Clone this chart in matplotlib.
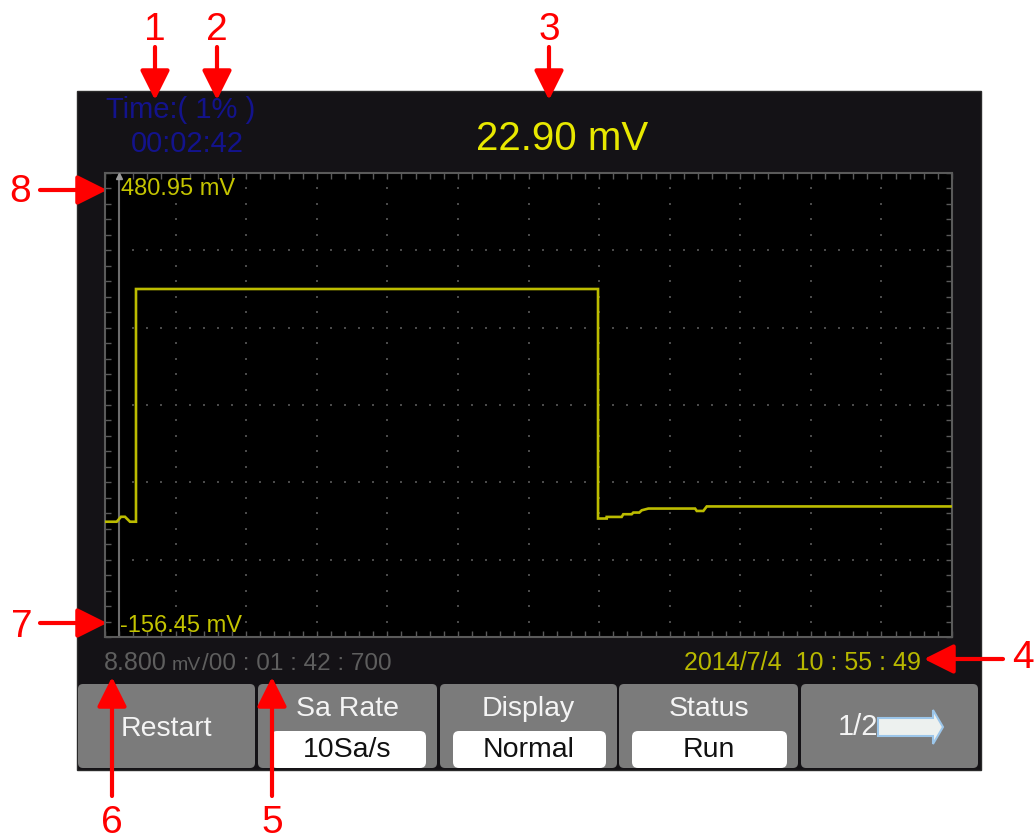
import numpy as np
import matplotlib
matplotlib.use("Agg")
import matplotlib.pyplot as plt
from matplotlib.patches import Rectangle, FancyBboxPatch, Polygon

plt.rcParams['font.family'] = ['Liberation Sans', 'DejaVu Sans']

# ---------------- data ----------------
# time in screen divisions (12 horizontal divisions), voltage in mV
time_div = [0.0, 0.166, 0.227, 0.283, 0.354, 0.439, 0.439, 6.985, 6.985,
            7.108, 7.108, 7.32, 7.343, 7.462, 7.485, 7.57, 7.604, 7.698,
            8.36, 8.384, 8.477, 8.525, 12.0]
voltage_mv = [1.9, 1.9, 8.7, 8.7, 1.9, 1.9, 321.6, 321.6, 6.3,
              6.3, 8.5, 8.5, 12.2, 12.2, 14.5, 14.5, 17.6, 20.0,
              20.0, 16.7, 16.7, 22.9, 22.9]
y_top_mv = 480.95
y_bottom_mv = -156.45
n_xdiv, n_ydiv = 12, 6
cursor_div = 0.2

elapsed_label = "Time:( 1% )"
elapsed_time = "00:02:42"
current_value = "22.90 mV"
scale_value = "8.800"
scale_unit = "mV"
scale_time = "/00 : 01 : 42 : 700"
timestamp = "2014/7/4  10 : 55 : 49"
top_label = "480.95 mV"
bottom_label = "-156.45 mV"
button_titles = ["Restart", "Sa Rate", "Display", "Status", "1/2"]
button_values = [None, "10Sa/s", "Normal", "Run", None]

# ---------------- figure ----------------
W, H = 1035, 839
fig = plt.figure(figsize=(W / 100, H / 100), dpi=100)
fig.patch.set_facecolor('white')

bg = fig.add_axes([0, 0, 1, 1])
bg.set_xlim(0, W)
bg.set_ylim(H, 0)
bg.axis('off')

# screen panel
bg.add_patch(Rectangle((77, 91), 904, 679, facecolor='#141216', edgecolor='#2a2a2a', lw=1))

blue = '#13138c'
bg.text(106, 118, elapsed_label, color=blue, fontsize=21, va='baseline', ha='left')
bg.text(131, 151.5, elapsed_time, color=blue, fontsize=21, va='baseline', ha='left')
bg.text(562, 150, current_value, color='#e8e800', fontsize=29, va='baseline', ha='center')

gray_txt = '#5e5e5e'
bg.text(104, 670, scale_value, color=gray_txt, fontsize=18, va='baseline', ha='left')
bg.text(172, 670, scale_unit, color=gray_txt, fontsize=14, va='baseline', ha='left')
bg.text(202, 670, scale_time, color=gray_txt, fontsize=17.5, va='baseline', ha='left')
bg.text(921, 670, timestamp, color='#b8b800', fontsize=18, va='baseline', ha='right')

# buttons
btn_x = [(78, 255), (258, 437), (440, 617), (619, 798), (801, 978)]
btn_top, btn_bot = 684, 768
for i, (x0, x1) in enumerate(btn_x):
    bg.add_patch(FancyBboxPatch((x0 + 3, btn_top + 3), x1 - x0 - 6, btn_bot - btn_top - 6,
                                boxstyle="round,pad=3,rounding_size=5",
                                facecolor='#7b7b7b', edgecolor='none'))
    cx = (x0 + x1) / 2
    if button_values[i] is None and i < 4:
        bg.text(cx, 736, button_titles[i], color='#f4f4f4', fontsize=20.5,
                va='baseline', ha='center')
    elif button_values[i] is not None:
        bg.text(cx, 716, button_titles[i], color='#f4f4f4', fontsize=20.5,
                va='baseline', ha='center')
        bx0, bx1 = x0 + 13, x1 - 11
        bg.add_patch(FancyBboxPatch((bx0 + 4, 735), bx1 - bx0 - 8, 29,
                                    boxstyle="round,pad=4,rounding_size=6",
                                    facecolor='white', edgecolor='none'))
        bg.text(cx, 757, button_values[i], color='#111111', fontsize=20.5,
                va='baseline', ha='center')

# page button with arrow
bg.text(858, 735, button_titles[4], color='#f4f4f4', fontsize=21, va='baseline', ha='center')
arrow_poly = [(878, 718), (933, 718), (933, 710), (943, 727), (933, 744), (933, 736), (878, 736)]
bg.add_patch(Polygon(arrow_poly, closed=True, facecolor='#edf1ef', edgecolor='#9cc6ea', lw=1.5))

# red annotations
red = '#ff0000'
ann = [
    ("1", (155, 40), (155, 47), (155, 100)),
    ("2", (217, 40), (217, 47), (217, 100)),
    ("3", (549, 40), (549, 47), (549, 100)),
    ("4", (1023, 668), (1003, 659), (924, 659)),
    ("5", (272, 833), (272, 796), (272, 677)),
    ("6", (112, 833), (112, 796), (112, 677)),
    ("7", (22, 637), (40, 623), (107, 623)),
    ("8", (20, 202), (40, 190), (107, 190)),
]
for lbl, tpos, a0, a1 in ann:
    bg.text(tpos[0], tpos[1], lbl, color=red, fontsize=28, va='baseline', ha='center')
    bg.annotate("", xy=a1, xytext=a0,
                arrowprops=dict(arrowstyle='-|>,head_length=0.9,head_width=0.45',
                                color=red, lw=3, shrinkA=0, shrinkB=0,
                                mutation_scale=20))

# ---------------- plot area ----------------
px0, px1, py0, py1 = 105, 952, 173, 637
ax = fig.add_axes([px0 / W, 1 - py1 / H, (px1 - px0) / W, (py1 - py0) / H])
ax.set_facecolor('black')
ax.set_xlim(0, n_xdiv)
ax.set_ylim(y_bottom_mv, y_top_mv)
for s in ax.spines.values():
    s.set_color('#5a5a5a')
    s.set_linewidth(1.5)

ydiv = (y_top_mv - y_bottom_mv) / n_ydiv
x_minor = np.arange(0, n_xdiv + 1e-9, 0.2)
y_minor = y_bottom_mv + np.arange(0, n_ydiv * 5 + 1) * ydiv / 5
ax.set_xticks(x_minor)
ax.set_yticks(y_minor)
ax.tick_params(direction='in', top=True, right=True, length=4, width=1,
               color='#5a5a5a', labelbottom=False, labelleft=False)

# dotted grid
gx, gy = [], []
for k in range(1, n_xdiv):
    gx += [k] * len(y_minor)
    gy += list(y_minor)
for j in range(1, n_ydiv):
    yv = y_bottom_mv + j * ydiv
    gx += list(x_minor)
    gy += [yv] * len(x_minor)
ax.scatter(gx, gy, s=2.5, color='#4a4a4a', marker='s', linewidths=0, zorder=1)

# cursor line
ax.axvline(cursor_div, color='#6c6c6c', lw=1.5, zorder=2)
ax.plot([cursor_div], [y_top_mv - 4], marker='^', ms=5, color='#9a9a9a', zorder=3, clip_on=False)

# trace
ax.plot(time_div, voltage_mv, color='#bcbc00', lw=1.9, zorder=4, solid_joinstyle='miter')

# range labels
ax.text((121 - px0) / (px1 - px0), 1 - (195 - py0) / (py1 - py0), top_label,
        transform=ax.transAxes, color='#c4c400', fontsize=17, va='baseline', ha='left', zorder=5)
ax.text((120 - px0) / (px1 - px0), 1 - (632 - py0) / (py1 - py0), bottom_label,
        transform=ax.transAxes, color='#c4c400', fontsize=17, va='baseline', ha='left', zorder=5)

fig.savefig("out.png", dpi=100, facecolor='white')
